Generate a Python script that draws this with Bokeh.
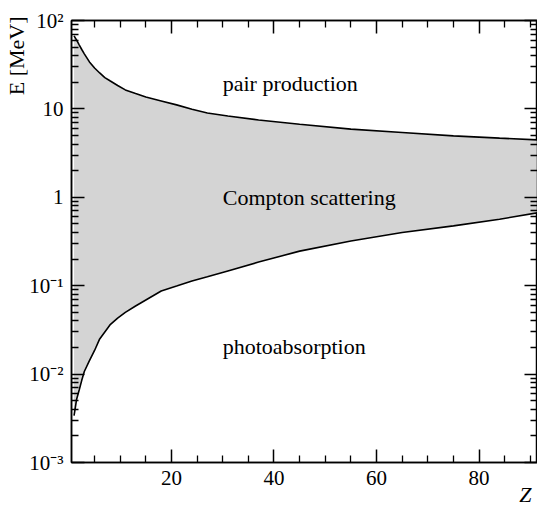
from bokeh.plotting import figure
from bokeh.models import (FixedTicker, LinearAxis, LogAxis, Label, Range1d,
                          CustomJSTickFormatter, Title)
from bokeh.embed import file_html
from bokeh.resources import INLINE

# atomic number grid and boundary energies (MeV)
Z = [1, 1.5, 2, 2.5, 3, 4, 5, 6, 7, 8, 9.5, 11, 13, 15, 18, 21, 24, 27, 31,
     37, 45, 55, 65, 75, 84, 91.5]
E_pair = [67, 60, 53, 47, 42, 34, 29, 25.5, 22.6, 20.8, 18.4, 16.4, 14.9,
          13.6, 12.3, 11.1, 9.9, 9.0, 8.3, 7.5, 6.7, 5.9, 5.4, 4.95, 4.67,
          4.46]
E_photo = [0.0034, 0.0052, 0.0066, 0.0085, 0.0107, 0.0142, 0.0185, 0.025,
           0.030, 0.036, 0.043, 0.050, 0.059, 0.069, 0.087, 0.099, 0.113,
           0.126, 0.147, 0.185, 0.246, 0.32, 0.40, 0.475, 0.565, 0.67]

x_ticks = [20, 40, 60, 80]
x_minor = [5, 10, 15, 25, 30, 35, 45, 50, 55, 65, 70, 75, 85, 90]
y_ticks = [1e-3, 1e-2, 1e-1, 1, 10, 100]
y_tick_labels = ["10\u207b\u00b3", "10\u207b\u00b2", "10\u207b\u00b9", "1", "10", "10\u00b2"]
y_minor = [k * 10.0 ** n for n in range(-3, 2) for k in range(2, 10)]
region_names = ["pair production", "Compton scattering", "photoabsorption"]

SERIF = "Liberation Serif"
W, H = 537, 510

p = figure(width=W, height=H, y_axis_type="log",
           x_range=Range1d(0.5, 91.4), y_range=Range1d(1e-3, 1e2),
           output_backend="svg", toolbar_location=None,
           min_border_left=71, min_border_right=0,
           min_border_top=20, min_border_bottom=48)
p.grid.visible = False
p.outline_line_color = "black"
p.outline_line_width = 1.5
p.background_fill_color = "white"
p.border_fill_color = "white"

p.varea(x=Z, y1=E_photo, y2=E_pair, fill_color="#d4d4d4")
p.line(Z, E_pair, line_color="black", line_width=1.6)
p.line(Z, E_photo, line_color="black", line_width=1.6)


def style_axis(ax, show_labels):
    ax.axis_line_color = "black"
    ax.axis_line_width = 1.5
    ax.major_tick_in = 13
    ax.major_tick_out = 0
    ax.minor_tick_in = 7
    ax.minor_tick_out = 0
    ax.major_tick_line_width = 1.5
    ax.minor_tick_line_width = 1.3
    ax.major_tick_line_color = "black"
    ax.minor_tick_line_color = "black"
    if show_labels:
        ax.major_label_text_font = SERIF
        ax.major_label_text_font_size = "21px"
        ax.major_label_text_color = "black"
        ax.major_label_standoff = 8
    else:
        ax.formatter = CustomJSTickFormatter(code="return ''")
        ax.major_label_standoff = 0


p.xaxis.ticker = FixedTicker(ticks=x_ticks, minor_ticks=x_minor)
p.yaxis.ticker = FixedTicker(ticks=y_ticks, minor_ticks=y_minor)
style_axis(p.xaxis[0], True)
style_axis(p.yaxis[0], True)
p.yaxis.major_label_overrides = {t: s for t, s in zip(y_ticks, y_tick_labels)}

top = LinearAxis(ticker=FixedTicker(ticks=x_ticks, minor_ticks=x_minor))
style_axis(top, False)
p.add_layout(top, "above")
right = LogAxis(ticker=FixedTicker(ticks=y_ticks, minor_ticks=y_minor))
style_axis(right, False)
p.add_layout(right, "right")

# region labels
for name, yv in zip(region_names, [19.2, 1.0, 0.0205]):
    p.add_layout(Label(x=30, y=yv, text=name, text_font=SERIF,
                       text_font_size="22px", text_color="black",
                       text_baseline="alphabetic", text_align="left"))

# axis titles as side-panel titles (not clipped to the frame)
p.add_layout(Title(text="E [MeV]", align="right", vertical_align="bottom",
                   offset=-4, standoff=-4, text_font=SERIF,
                   text_font_style="normal", text_font_size="22px",
                   text_color="black"), "left")
p.add_layout(Title(text="Z", align="right", vertical_align="top",
                   offset=6, standoff=-12, text_font=SERIF,
                   text_font_style="italic", text_font_size="22px",
                   text_color="black"), "below")

open("out.html", "w").write(file_html(p, INLINE))
